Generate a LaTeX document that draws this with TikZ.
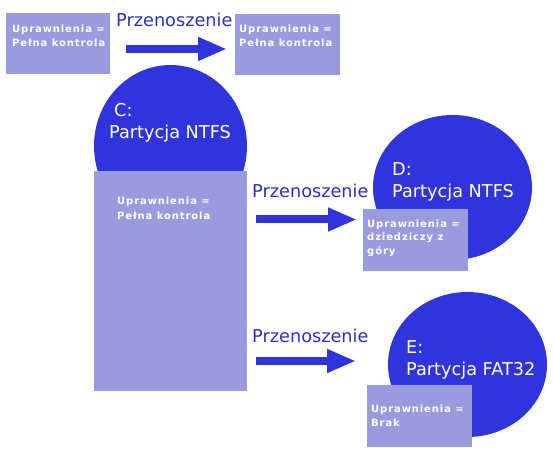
\documentclass[tikz,border=0pt]{standalone}
\usepackage{fontspec}
\setmainfont{DejaVu Sans}
\newfontfamily\smallbold[LetterSpace=9]{DejaVu Sans Bold}
\usetikzlibrary{arrows.meta,shapes.geometric}
\definecolor{dblue}{RGB}{48,52,220}
\definecolor{lbox}{RGB}{153,155,222}
\definecolor{tblue}{RGB}{44,46,200}
\tikzset{
  part/.style={ellipse, fill=dblue, inner sep=0pt},
  permbox/.style={fill=lbox, inner sep=0pt, anchor=north west},
  permtext/.style={anchor=base west, inner sep=0pt, text=white, align=left,
    font=\smallbold\fontsize{10}{14}\selectfont},
  bigtext/.style={anchor=base west, inner sep=0pt, text=white,
    font=\fontsize{17.7}{22}\selectfont},
  movetext/.style={anchor=base west, inner sep=0pt, text=tblue,
    font=\fontsize{17.7}{22}\selectfont},
  movearrow/.style={draw=dblue, line width=8pt,
    -{Triangle[length=29pt,width=22pt]}}
}
\begin{document}
\begin{tikzpicture}[x=1pt,y=-1pt]
\useasboundingbox (0,0) rectangle (554,457);
% top row (text anchors are at the baseline of the last line)
\node[permbox, minimum width=104pt, minimum height=61pt] (tl) at (6,13) {};
\node[permbox, minimum width=105pt, minimum height=61pt] (tr) at (235,14) {};
\node[permtext] (tlt) at (12,47) {Uprawnienia =\\Pełna kontrola};
\node[permtext] (trt) at (239,47) {Uprawnienia =\\Pełna kontrola};
\node[movetext] (mv1) at (116,27) {Przenoszenie};
\coordinate (a1s) at (126,49);
\coordinate (a1e) at (227,49);
\draw[movearrow] (a1s) -- (a1e);
% C partition
\node[part, minimum width=153pt, minimum height=162pt] (c) at (170.5,146) {};
\node[permbox, minimum width=153pt, minimum height=220pt] (cbox) at (94,171) {};
\node[bigtext] (ct1) at (114,117) {C:};
\node[bigtext] (ct2) at (109,139) {Partycja NTFS};
\node[permtext] (cbt) at (117,219) {Uprawnienia =\\Pełna kontrola};
% D partition
\node[part, minimum width=159pt, minimum height=145pt] (d) at (452.5,187.5) {};
\node[permbox, minimum width=105pt, minimum height=62pt] (dbox) at (363,209) {};
\node[bigtext] (dt1) at (392,176) {D:};
\node[bigtext] (dt2) at (392,198) {Partycja NTFS};
\node[permtext, font=\smallbold\fontsize{10}{13.5}\selectfont] (dbt) at (367,254) {Uprawnienia =\\dziedziczy z\\góry};
\node[movetext] (mv2) at (252,198) {Przenoszenie};
\coordinate (a2s) at (256,219.5);
\coordinate (a2e) at (357,219.5);
\draw[movearrow] (a2s) -- (a2e);
% E partition
\node[part, minimum width=159pt, minimum height=145pt] (e) at (467.5,364.5) {};
\node[permbox, minimum width=105pt, minimum height=62pt] (ebox) at (367,385) {};
\node[bigtext] (et1) at (406,353) {E:};
\node[bigtext] (et2) at (406,375) {Partycja FAT32};
\node[permtext] (ebt) at (371,426) {Uprawnienia =\\Brak};
\node[movetext] (mv3) at (252,342) {Przenoszenie};
\coordinate (a3s) at (256,361);
\coordinate (a3e) at (356,361);
\draw[movearrow] (a3s) -- (a3e);
\end{tikzpicture}
\end{document}
